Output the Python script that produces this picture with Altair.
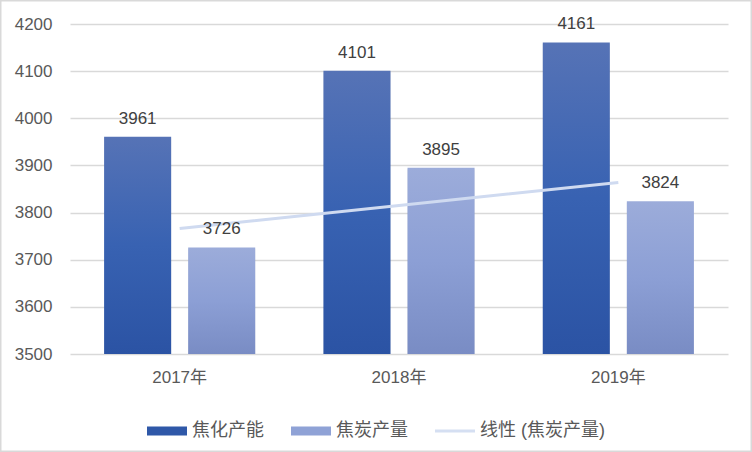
import altair as alt
import pandas as pd
import numpy as np

years = ["2017年", "2018年", "2019年"]
capacity = [3961, 4101, 4161]
output = [3726, 3895, 3824]
series_names = ["焦化产能", "焦炭产量"]
trend_name = "线性 (焦炭产量)"
y_ticks = [3500, 3600, 3700, 3800, 3900, 4000, 4100, 4200]

# linear trendline of 焦炭产量 (least squares, like Excel's linear trendline)
idx = np.arange(len(output))
coef = np.polyfit(idx, output, 1)
trend = np.polyval(coef, idx)

bars_df = pd.DataFrame({
    "year": years * 2,
    "series": [series_names[0]] * 3 + [series_names[1]] * 3,
    "value": capacity + output,
})
trend_df = pd.DataFrame({"year": years, "value": trend, "series": trend_name})
legend_df = pd.DataFrame({"series": series_names + [trend_name]})

FONT = "Liberation Sans, Noto Sans CJK SC, sans-serif"

x_enc = alt.X(
    "year:N", sort=years,
    scale=alt.Scale(domain=years, paddingInner=0.311, paddingOuter=0.1555),
    axis=alt.Axis(title=None, labelAngle=0, ticks=False, domain=False, grid=False,
                  labelPadding=15, labelFontSize=17, labelColor="#595959", labelFont=FONT),
)
y_enc = alt.Y(
    "value:Q",
    scale=alt.Scale(domain=[3500, 4200], nice=False, zero=False),
    axis=alt.Axis(title=None, values=y_ticks, format="d", ticks=False, domain=False, grid=True,
                  gridColor="#d9d9d9", gridWidth=1.3, labelPadding=18,
                  labelFontSize=17, labelColor="#595959", labelFont=FONT),
)
xoff = alt.XOffset("series:N",
                   scale=alt.Scale(domain=series_names, paddingInner=0.2024, paddingOuter=0))

dark_grad = alt.Gradient(
    gradient="linear", x1=0, x2=0, y1=0, y2=1,
    stops=[alt.GradientStop(color="#5673b6", offset=0),
           alt.GradientStop(color="#3862b2", offset=0.5),
           alt.GradientStop(color="#2b53a4", offset=1)],
)
light_grad = alt.Gradient(
    gradient="linear", x1=0, x2=0, y1=0, y2=1,
    stops=[alt.GradientStop(color="#9cacda", offset=0),
           alt.GradientStop(color="#8c9fd5", offset=0.5),
           alt.GradientStop(color="#798cc4", offset=1)],
)

base = alt.Chart(bars_df)

shadow = base.mark_bar(color="#000000", opacity=0.10, xOffset=1.5, yOffset=1.5).encode(
    x=x_enc, y=y_enc, y2=alt.datum(3500), xOffset=xoff)

dark = base.transform_filter(alt.datum.series == series_names[0]).mark_bar(
    color=dark_grad).encode(x=x_enc, y=y_enc, y2=alt.datum(3500), xOffset=xoff)
light = base.transform_filter(alt.datum.series == series_names[1]).mark_bar(
    color=light_grad).encode(x=x_enc, y=y_enc, y2=alt.datum(3500), xOffset=xoff)

line = alt.Chart(trend_df).mark_line(color="#cfdaf0", strokeWidth=3).encode(
    x=x_enc, y=y_enc)

labels = base.mark_text(dy=-13, baseline="alphabetic", fontSize=17, color="#404040",
                        font=FONT).encode(
    x=x_enc, y=y_enc, xOffset=xoff, text=alt.Text("value:Q", format="d"))

legend_pts = alt.Chart(legend_df).mark_point(filled=True, opacity=0).encode(
    x=alt.value(0), y=alt.value(0),
    color=alt.Color("series:N",
                    scale=alt.Scale(domain=series_names + [trend_name],
                                    range=["#2f58a8", "#8fa2d6", "#d5dff2"]),
                    legend=alt.Legend(title=None)),
    shape=alt.Shape("series:N",
                    scale=alt.Scale(domain=series_names + [trend_name],
                                    range=["M-1,-0.23H1V0.23H-1Z",
                                           "M-1,-0.23H1V0.23H-1Z",
                                           "M-1,-0.07H1V0.07H-1Z"]),
                    legend=alt.Legend(title=None)),
    size=alt.value(1600),
)

border = alt.Chart(pd.DataFrame({"a": [0]})).mark_rect(
    fill="white", fillOpacity=0, stroke="#d9d9d9", strokeWidth=1.5).encode(
    x=alt.value(-69.25), x2=alt.value(681.25), y=alt.value(-23.25), y2=alt.value(427.25))

chart = alt.layer(shadow, dark, light, line, labels, legend_pts, border).properties(
    width=658, height=330,
    autosize=alt.AutoSizeParams(type="none"),
    padding={"left": 70, "top": 24, "right": 24, "bottom": 98},
    background="white",
).configure_view(stroke=None).configure_legend(
    orient="none", legendX=77, legendY=387, direction="horizontal",
    symbolSize=1600, symbolOpacity=1, symbolStrokeWidth=0, symbolType="square",
    labelFont=FONT, labelFontSize=18, labelColor="#595959", labelOffset=5,
    columnPadding=27, padding=0, labelLimit=300,
)

chart.save("out.html", embed_options={"renderer": "svg", "actions": False})
